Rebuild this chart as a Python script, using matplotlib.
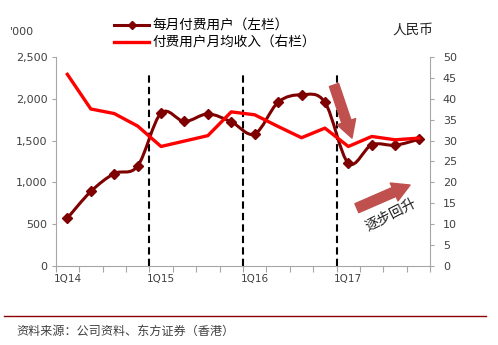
import matplotlib
matplotlib.use("Agg")
import matplotlib.pyplot as plt
from matplotlib.path import Path
from matplotlib.patches import PathPatch, FancyArrowPatch
from matplotlib.lines import Line2D
from matplotlib.ticker import FuncFormatter, FixedLocator

quarters = ["1Q14", "2Q14", "3Q14", "4Q14", "1Q15", "2Q15", "3Q15", "4Q15",
            "1Q16", "2Q16", "3Q16", "4Q16", "1Q17", "2Q17", "3Q17", "4Q17"]
paying_users = [570, 890, 1105, 1195, 1830, 1730, 1820, 1725,
                1580, 1960, 2050, 1960, 1230, 1450, 1445, 1515]
arppu = [45.9, 37.6, 36.5, 33.5, 28.6, 29.9, 31.2, 36.9,
         36.2, 33.4, 30.7, 33.0, 28.6, 31.0, 30.2, 30.6]
year_labels = ["1Q14", "1Q15", "1Q16", "1Q17"]

CJK = "Noto Sans CJK SC"
DARK_RED = "#7F0000"
RED = "#FF0000"
ARROW = "#C0504D"
GREY = "#A6A6A6"
TXT = "#404040"


def smooth_path(xs, ys, t=1 / 6):
    # cubic bezier through every point, excel style smoothing
    n = len(xs)
    verts = [(xs[0], ys[0])]
    codes = [Path.MOVETO]
    for i in range(n - 1):
        xp, yp = (xs[i - 1], ys[i - 1]) if i > 0 else (xs[i], ys[i])
        xn, yn = (xs[i + 2], ys[i + 2]) if i + 2 < n else (xs[i + 1], ys[i + 1])
        c1 = (xs[i] + (xs[i + 1] - xp) * t, ys[i] + (ys[i + 1] - yp) * t)
        c2 = (xs[i + 1] - (xn - xs[i]) * t, ys[i + 1] - (yn - ys[i]) * t)
        verts += [c1, c2, (xs[i + 1], ys[i + 1])]
        codes += [Path.CURVE4] * 3
    return Path(verts, codes)


fig = plt.figure(figsize=(4.98, 3.45), dpi=100)
ax = fig.add_axes([0.1118, 0.2299, 0.7522, 0.6041])
ax2 = ax.twinx()

x = list(range(len(quarters)))

# quarter separators
for b in [3.5, 7.5, 11.5]:
    ax.axvline(b, ymin=0, ymax=0.93, color="black", lw=1.5,
               ls=(0, (3.5, 2)), zorder=1)

ax.add_patch(PathPatch(smooth_path(x, paying_users), fill=False,
                       edgecolor=DARK_RED, lw=2.2, zorder=3))
ax.plot(x, paying_users, ls="none", marker="D", ms=5.5,
        color=DARK_RED, zorder=4)

ax2.plot(x, arppu, color=RED, lw=2.4, zorder=3)

ax.set_xlim(-0.5, 15.5)
ax.set_ylim(0, 2500)
ax2.set_ylim(0, 50)
ax.set_yticks(range(0, 2501, 500))
ax.yaxis.set_major_formatter(FuncFormatter(lambda v, p: f"{int(v):,}"))
ax2.set_yticks(range(0, 51, 5))

ax.xaxis.set_major_locator(FixedLocator([i - 0.5 for i in range(17)]))
ax.xaxis.set_major_formatter(FuncFormatter(lambda v, p: ""))
ax.xaxis.set_minor_locator(FixedLocator([quarters.index(q) for q in year_labels]))
ax.xaxis.set_minor_formatter(FuncFormatter(lambda v, p: quarters[int(round(v))]))
ax.tick_params(axis="x", which="major", length=4, color=GREY, direction="out")
ax.tick_params(axis="x", which="minor", length=0, pad=6, labelsize=7.5,
               labelcolor=TXT)
ax.tick_params(axis="y", length=3, color=GREY, labelsize=8, labelcolor=TXT, pad=3)
ax2.tick_params(axis="y", length=3, color=GREY, labelsize=8, labelcolor=TXT, pad=6)

for a in (ax, ax2):
    a.spines["top"].set_visible(False)
    for s in ["left", "right", "bottom"]:
        a.spines[s].set_color(GREY)
ax.spines["right"].set_visible(False)
ax2.spines["left"].set_visible(False)
ax2.spines["bottom"].set_visible(False)

# legend
handles = [Line2D([], [], color=DARK_RED, lw=2.2, marker="D", ms=4),
           Line2D([], [], color=RED, lw=2.4)]
fig.legend(handles, ["每月付费用户（左栏）", "付费用户月均收入（右栏）"],
           loc="upper left", bbox_to_anchor=(114 / 498, 1 - 18.5 / 345),
           frameon=False, prop={"family": CJK, "size": 9.8},
           handlelength=2.6, handletextpad=0.25, labelspacing=0.25,
           borderpad=0, borderaxespad=0)

fig.text(10 / 498, 1 - 32 / 345, "'000", fontsize=8, color=TXT, va="center")
fig.text(392 / 498, 1 - 30 / 345, "人民币", family=CJK, fontsize=9.8,
         color="#202020", va="center")

# trend arrows
style = "simple,head_width=1.4,head_length=1.25,tail_width=0.7"
ax.add_patch(FancyArrowPatch((0.743, 0.867), (0.791, 0.612),
                             transform=ax.transAxes, color=ARROW,
                             arrowstyle=style, mutation_scale=10,
                             shrinkA=0, shrinkB=0, zorder=5))
ax.add_patch(FancyArrowPatch((0.804, 0.276), (0.946, 0.387),
                             transform=ax.transAxes, color=ARROW,
                             arrowstyle=style, mutation_scale=10,
                             shrinkA=0, shrinkB=0, zorder=5))
ax.text(0.895, 0.245, "逐步回升", transform=ax.transAxes, family=CJK,
        fontsize=10, rotation=27, ha="center", va="center", color="#202020")

# footer
fig.add_artist(Line2D([4 / 498, 486 / 498], [1 - 316 / 345, 1 - 316 / 345],
                      color="#8B0000", lw=1))
fig.text(16 / 498, 1 - 331 / 345, "资料来源：公司资料、东方证券（香港）",
         family=CJK, fontsize=8.7, color=TXT, va="center")

fig.savefig("out.png", dpi=100)
